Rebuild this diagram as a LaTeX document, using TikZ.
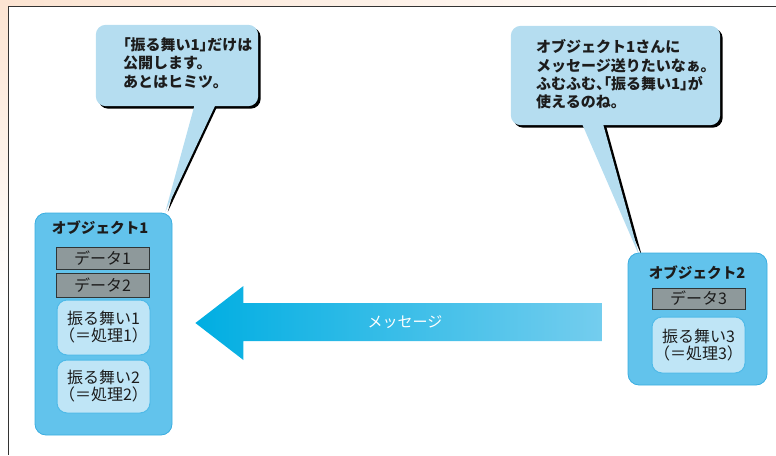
\documentclass[tikz,border=0pt]{standalone}
\usepackage{fontspec}
\setmainfont{Noto Sans CJK JP}
\newfontfamily\jpprop{Noto Sans CJK JP}[RawFeature=+palt]
\newcommand\pb[1]{{\jpprop #1}}
\usetikzlibrary{calc,backgrounds}
\definecolor{objfill}{HTML}{62C3EC}
\definecolor{objline}{HTML}{3AADE0}
\definecolor{behfill}{HTML}{BFE5F6}
\definecolor{behline}{HTML}{4FBAE8}
\definecolor{datafill}{HTML}{8E999B}
\definecolor{dataline}{HTML}{2F3536}
\definecolor{bubble}{HTML}{B5DDF0}
\definecolor{arrowL}{HTML}{00AEE2}
\definecolor{arrowR}{HTML}{74CDEE}
\definecolor{peach}{HTML}{FCE4D2}
\definecolor{txt}{HTML}{1C1C1C}
\definecolor{framec}{HTML}{333333}
\begin{document}
\begin{tikzpicture}[x=1pt,y=-1pt,
  objbox/.style={draw=objline,line width=0.8pt,fill=objfill,rounded corners=11pt,inner sep=0pt},
  databox/.style={draw=dataline,line width=0.9pt,fill=datafill,inner sep=0pt,minimum width=93pt,font=\fontsize{16}{17}\selectfont,text=txt},
  behbox/.style={draw=behline,line width=1pt,fill=behfill,rounded corners=10pt,inner sep=0pt,minimum width=93pt,align=center,font=\fontsize{16}{17}\selectfont,text=txt},
  titletext/.style={font=\fontsize{14.6}{16}\selectfont\bfseries,text=txt,inner sep=0pt},
  bubbletext/.style={font=\fontsize{15}{18.3}\selectfont\bfseries,align=left,anchor=west,inner sep=0pt,text=txt},
  bubblearea/.style={inner sep=0pt},
  msgtext/.style={font=\fontsize{15}{17}\selectfont,text=white,inner sep=0pt},
  framedraw/.style={draw=framec,line width=1pt},
  bubshadow/.style={fill=black},
  bubfill/.style={fill=bubble}
]
\useasboundingbox (0,0) rectangle (776,455);

% ---------- object 1 ----------
\node[objbox,minimum width=137pt,minimum height=222pt] (o1) at (103.5,324) {};
\node[titletext] (o1t) at (100,228) {オブジェクト1};
\node[databox,minimum height=22pt] (d1) at (102.5,258) {データ1};
\node[databox,minimum height=24pt] (d2) at (102.5,285) {データ2};
\node[behbox,minimum height=55pt] (p1) at (103.5,327.5) {振る舞い1\\（＝処理1）};
\node[behbox,minimum height=53pt] (p2) at (103.5,386.5) {振る舞い2\\（＝処理2）};

% ---------- object 2 ----------
\node[objbox,minimum width=139pt,minimum height=132pt] (o2) at (697.5,319) {};
\node[titletext] (o2t) at (697,273) {オブジェクト2};
\node[databox,minimum height=21pt] (d3) at (698.5,298.5) {データ3};
\node[behbox,minimum height=56pt] (p3) at (698.5,345) {振る舞い3\\（＝処理3）};

% ---------- message arrow ----------
\coordinate (atip) at ($(o1.east)+(23,-1)$);
\coordinate (aend) at ($(o2.west)+(-25,4)$);
\shade[left color=arrowL,middle color=arrowL,right color=arrowR]
  (atip) -- ($(atip)+(48,-37)$) -- ($(atip)+(48,-20)$) -- ($(aend)+(0,-20)$)
  -- ($(aend)+(0,18)$) -- ($(atip)+(48,18)$) -- ($(atip)+(48,37)$) -- cycle;
\node[msgtext] (msg) at (405,322) {メッセージ};

% ---------- bubbles ----------
\begin{scope}[on background layer]
  \shade[left color=peach,right color=white] (0,0) rectangle (776,6);
  \shade[top color=peach,bottom color=white] (0,0) rectangle (8,300);
  \draw[framedraw] (776,6) -- (8,6) -- (8,455);

  \path node[bubblearea,minimum width=162pt,minimum height=81pt] (b1) at (177,65.5) {};
  \path node[bubblearea,minimum width=209pt,minimum height=99pt] (b2) at (615.5,75.5) {};

  \coordinate (t1a) at ($(b1.south west)+(99,-2)$);
  \coordinate (t1b) at ($(b1.south west)+(120,-2)$);
  \coordinate (t1c) at ($(o1.north east)+(-7,-1)$);
  \coordinate (t2a) at ($(b2.south west)+(71,-2)$);
  \coordinate (t2b) at ($(b2.south west)+(92,-2)$);
  \coordinate (t2c) at ($(o2.north west)+(12,4)$);

  \fill[bubshadow] ([xshift=2.5pt]t1a) -- ([xshift=2.5pt]t1b) -- ([xshift=2.5pt]t1c) -- cycle;
  \fill[bubshadow] ([xshift=2.5pt]t2a) -- ([xshift=2.5pt]t2b) -- ([xshift=2.5pt]t2c) -- cycle;

  \fill[bubshadow,rounded corners=10pt] ($(b1.north west)+(2.5,2.5)$) rectangle ($(b1.south east)+(2.5,2.5)$);
  \fill[bubshadow,rounded corners=10pt] ($(b2.north west)+(2.5,2.5)$) rectangle ($(b2.south east)+(2.5,2.5)$);
  \fill[bubfill,rounded corners=10pt] (b1.north west) rectangle (b1.south east);
  \fill[bubfill,rounded corners=10pt] (b2.north west) rectangle (b2.south east);
  \fill[bubfill] (t1a) -- (t1b) -- (t1c) -- cycle;
  \fill[bubfill] (t2a) -- (t2b) -- (t2c) -- cycle;
\end{scope}

\node[bubbletext] (b1t) at (123,63) {\pb{「}振る舞い1\pb{」}だけは\\公開します。\\あとはヒミツ。};
\node[bubbletext] (b2t) at (536,74.5) {オブジェクト1さんに\\メッセージ送りたいなぁ。\\ふむふむ\pb{、「}振る舞い1\pb{」}が\\使えるのね。};
\end{tikzpicture}
\end{document}
